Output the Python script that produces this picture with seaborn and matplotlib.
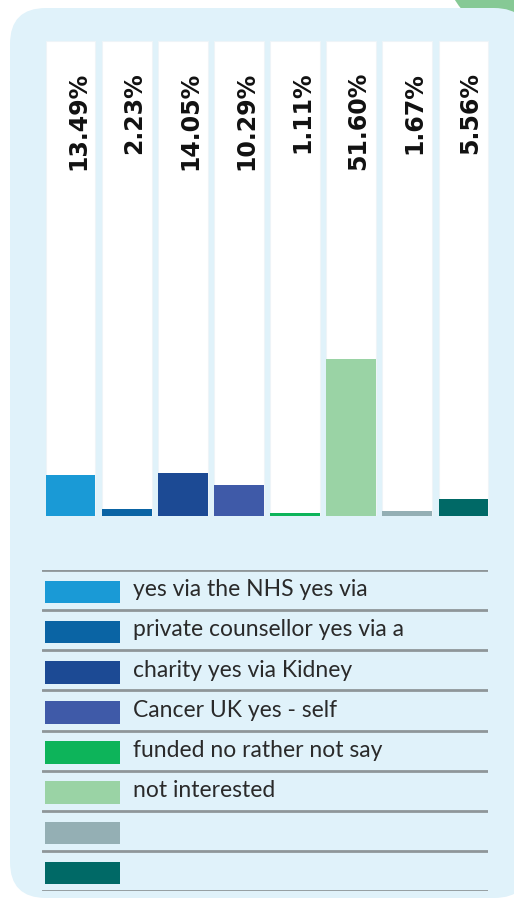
import numpy as np
import pandas as pd
import matplotlib
matplotlib.use("Agg")
import matplotlib.pyplot as plt
import seaborn as sns
from matplotlib.patches import FancyBboxPatch, Ellipse, Rectangle

# data
categories = ["yes via the NHS", "yes via private counsellor", "yes via a charity",
              "yes via Kidney Cancer UK", "yes - self funded", "no",
              "rather not say", "not interested"]
shares = [13.49, 2.23, 14.05, 10.29, 1.11, 51.60, 1.67, 5.56]
colors = ["#1a9ad6", "#0a64a4", "#1c4a94", "#3f5aa8",
          "#0db45a", "#9ad3a5", "#94afb4", "#006966"]
legend_lines = ["yes via the NHS yes via", "private counsellor yes via a",
                "charity yes via Kidney", "Cancer UK yes - self",
                "funded no rather not say", "not interested", "", ""]

W, H = 514, 904
YMAX = 156

sns.set_theme(style="white")
plt.rcParams["font.family"] = ["Lato", "DejaVu Sans"]

fig = plt.figure(figsize=(W / 100, H / 100), dpi=100)
fig.patch.set_facecolor("white")

# decorative background: green blob and light blue rounded panel
fig.patches.append(Ellipse((515 / W, 1 + 35 / H), 140 / W, 140 / H,
                           transform=fig.transFigure, facecolor="#86c995",
                           edgecolor="none", zorder=-3))
fig.patches.append(FancyBboxPatch((10 / W, 5 / H), 520 / W, 890 / H,
                                  boxstyle="round,pad=0,rounding_size=0.07",
                                  mutation_aspect=W / H,
                                  transform=fig.transFigure, facecolor="#e0f2fa",
                                  edgecolor="none", zorder=-2))

df = pd.DataFrame({"cat": categories, "share": shares, "full": [YMAX] * len(shares)})

ax = fig.add_axes([45 / W, 1 - 517 / H, 444 / W, 475 / H])
ax.set_facecolor("none")
sns.barplot(data=df, x="cat", y="full", color="white", width=0.88, ax=ax,
            saturation=1, edgecolor="#eef4f8", linewidth=0.8)
sns.barplot(data=df, x="cat", y="share", hue="cat", palette=colors, dodge=False,
            width=0.88, ax=ax, legend=False, saturation=1, edgecolor="none")
ax.set_ylim(0, YMAX)
ax.set_xlim(-0.46, len(categories) - 0.54)
ax.axis("off")

for i, v in enumerate(shares):
    ax.text(i + 0.13, YMAX - 9.8, f"{v:.2f}%", rotation=90, ha="center", va="top",
            fontsize=17, fontweight="heavy", color="#111111", family="DejaVu Sans")

# legend panel
lax = fig.add_axes([42 / W, 1 - 892 / H, 446 / W, 321 / H])
lax.set_xlim(0, 446)
lax.set_ylim(len(categories), 0)
lax.axis("off")
for k in range(len(categories) + 1):
    lax.axhline(k, color="#8f9699", lw=2)
for k, (lab, c) in enumerate(zip(legend_lines, colors)):
    lax.add_patch(Rectangle((3, k + 0.27), 75, 0.56, facecolor=c, edgecolor="none"))
    lax.text(91, k + 0.47, lab, va="center", ha="left", fontsize=16.5, color="#2a2a2a")

fig.savefig("out.png", dpi=100, facecolor="white")
